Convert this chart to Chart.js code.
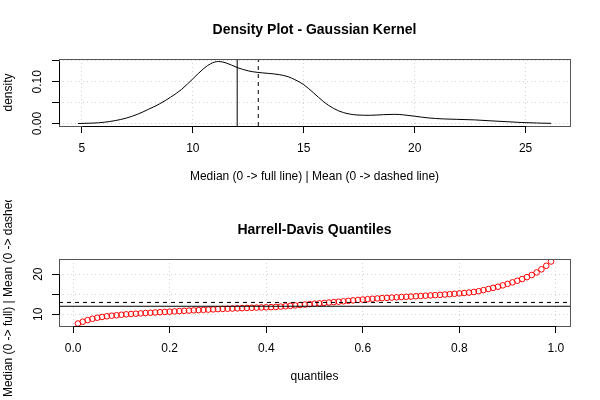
<!DOCTYPE html>
<html>
<head>
<meta charset="utf-8">
<script src="https://cdn.jsdelivr.net/npm/chart.js@4"></script>
<style>
  html, body { margin: 0; padding: 0; background: #fff; }
  canvas { display: block; }
</style>
</head>
<body>
<canvas id="densityChart" width="600" height="200"></canvas>
<canvas id="quantileChart" width="600" height="200"></canvas>
<script>
// kernel density
const densityX = [4.82, 5.5, 6.0, 6.5, 7.0, 7.5, 8.0, 8.5, 9.0, 9.5, 10.0, 10.5, 10.8, 11.15,
  11.5, 12.0, 12.5, 12.9, 13.4, 13.9, 14.3, 14.6, 15.0, 15.45, 15.9, 16.35, 16.8, 17.4,
  18.0, 18.6, 19.1, 19.5, 20.0, 20.6, 21.3, 21.9, 22.7, 23.4, 24.2, 24.8, 25.5, 26.15];
const densityY = [0.000, 0.001, 0.003, 0.007, 0.013, 0.022, 0.034, 0.047, 0.063, 0.082, 0.107, 0.132, 0.143, 0.1485,
  0.145, 0.134, 0.126, 0.1225, 0.120, 0.117, 0.112, 0.105, 0.093, 0.073, 0.052, 0.036, 0.026, 0.0205,
  0.0197, 0.0212, 0.022, 0.0207, 0.0175, 0.0135, 0.011, 0.010, 0.0087, 0.0065, 0.0042, 0.0025, 0.0012, 0.0004];

const medianValue = 12.0;
const meanValue = 12.95;

// Harrell-Davis quantiles
const quantileProbs = [0.01, 0.02, 0.03, 0.04, 0.05, 0.06, 0.07, 0.08, 0.09, 0.10,
  0.11, 0.12, 0.13, 0.14, 0.15, 0.16, 0.17, 0.18, 0.19, 0.20,
  0.21, 0.22, 0.23, 0.24, 0.25, 0.26, 0.27, 0.28, 0.29, 0.30,
  0.31, 0.32, 0.33, 0.34, 0.35, 0.36, 0.37, 0.38, 0.39, 0.40,
  0.41, 0.42, 0.43, 0.44, 0.45, 0.46, 0.47, 0.48, 0.49, 0.50,
  0.51, 0.52, 0.53, 0.54, 0.55, 0.56, 0.57, 0.58, 0.59, 0.60,
  0.61, 0.62, 0.63, 0.64, 0.65, 0.66, 0.67, 0.68, 0.69, 0.70,
  0.71, 0.72, 0.73, 0.74, 0.75, 0.76, 0.77, 0.78, 0.79, 0.80,
  0.81, 0.82, 0.83, 0.84, 0.85, 0.86, 0.87, 0.88, 0.89, 0.90,
  0.91, 0.92, 0.93, 0.94, 0.95, 0.96, 0.97, 0.98, 0.99];
const quantileValues = [7.70, 8.15, 8.55, 8.88, 9.14, 9.33, 9.50, 9.65, 9.76, 9.88,
  9.99, 10.07, 10.15, 10.23, 10.31, 10.38, 10.45, 10.52, 10.59, 10.65,
  10.72, 10.79, 10.86, 10.92, 10.98, 11.04, 11.10, 11.16, 11.22, 11.28,
  11.33, 11.38, 11.43, 11.48, 11.53, 11.58, 11.62, 11.66, 11.70, 11.74,
  11.78, 11.84, 11.91, 12.00, 12.09, 12.20, 12.31, 12.42, 12.53, 12.63,
  12.73, 12.83, 12.93, 13.03, 13.13, 13.24, 13.35, 13.46, 13.57, 13.67,
  13.77, 13.86, 13.94, 14.02, 14.09, 14.16, 14.23, 14.30, 14.36, 14.42,
  14.49, 14.56, 14.63, 14.70, 14.77, 14.84, 14.92, 15.00, 15.10, 15.20,
  15.30, 15.41, 15.55, 15.75, 16.02, 16.30, 16.58, 16.86, 17.20, 17.58,
  17.95, 18.35, 18.77, 19.25, 19.78, 20.42, 21.20, 22.08, 23.15];

// tick positions and their labels ('' = tick mark only)
const densityXTicks = [5, 10, 15, 20, 25];
const densityXLabels = ['5', '10', '15', '20', '25'];
const densityYTicks = [0, 0.05, 0.10, 0.15];
const densityYLabels = ['0.00', '', '0.10', ''];
const quantileXTicks = [0, 0.2, 0.4, 0.6, 0.8, 1.0];
const quantileXLabels = ['0.0', '0.2', '0.4', '0.6', '0.8', '1.0'];
const quantileYTicks = [10, 15, 20];
const quantileYLabels = ['10', '', '20'];

const FONT = '"Liberation Sans", Arial, Helvetica, sans-serif';

// R pads the data range by 4% on each side
function padRange(values) {
  const lo = Math.min(...values), hi = Math.max(...values);
  const d = (hi - lo) * 0.04;
  return [lo - d, hi + d];
}

// gray box plus black axis lines, and the rotated y label
const frame = {
  id: 'frame',
  afterDraw(chart, args, opts) {
    const ctx = chart.ctx, a = chart.chartArea;
    const xs = chart.scales.x, ys = chart.scales.y;
    ctx.save();
    ctx.lineWidth = 1;
    ctx.strokeStyle = '#555';
    ctx.strokeRect(a.left + 0.5, a.top + 0.5, a.right - a.left, a.bottom - a.top);
    ctx.strokeStyle = '#000';
    ctx.beginPath();
    const xt = xs.ticks, yt = ys.ticks;
    const by = Math.round(a.bottom) + 0.5;
    ctx.moveTo(Math.round(xs.getPixelForValue(xt[0].value)) + 0.5, by);
    ctx.lineTo(Math.round(xs.getPixelForValue(xt[xt.length - 1].value)) + 0.5, by);
    const lx = Math.round(a.left) + 0.5;
    ctx.moveTo(lx, Math.round(ys.getPixelForValue(yt[0].value)) + 0.5);
    ctx.lineTo(lx, Math.round(ys.getPixelForValue(yt[yt.length - 1].value)) + 0.5);
    ctx.stroke();

    ctx.fillStyle = '#000';
    ctx.font = '12px ' + FONT;
    ctx.textAlign = 'center';
    ctx.textBaseline = 'middle';
    ctx.translate(9, (a.top + a.bottom) / 2 + (opts.shift || 0));
    ctx.rotate(-Math.PI / 2);
    ctx.fillText(opts.text, 0, 0);
    ctx.restore();
  }
};

function makeScales(xRange, yRange, xTicks, xLabels, yTicks, yLabels, xTitle, yPad) {
  const grid = {
    color: '#d3d3d3',
    lineWidth: 1,
    tickLength: 7,
    tickColor: '#000',
    tickWidth: 1,
    tickBorderDash: [],
    borderDash: [1, 3]
  };
  return {
    x: {
      type: 'linear',
      min: xRange[0],
      max: xRange[1],
      afterBuildTicks: s => { s.ticks = xTicks.map(v => ({ value: v })); },
      afterFit: s => { s.height = 74; },
      grid: grid,
      border: { display: false, dash: [1, 3] },
      ticks: {
        autoSkip: false, maxRotation: 0, padding: 8, color: '#000',
        font: { family: FONT, size: 12 },
        callback: (v, i) => xLabels[i]
      },
      title: {
        display: true, text: xTitle, color: '#000',
        font: { family: FONT, size: 12 },
        padding: { top: 4, bottom: 16 }
      }
    },
    y: {
      type: 'linear',
      min: yRange[0],
      max: yRange[1],
      afterBuildTicks: s => { s.ticks = yTicks.map(v => ({ value: v })); },
      afterFit: s => { s.width = 59; },
      grid: grid,
      border: { display: false, dash: [1, 3] },
      ticks: {
        autoSkip: false, minRotation: 90, maxRotation: 90, crossAlign: 'center',
        padding: yPad, color: '#000',
        font: { family: FONT, size: 12 },
        callback: (v, i) => yLabels[i]
      }
    }
  };
}

function baseOptions(title, scales, sideTitle, sideShift) {
  return {
    responsive: false,
    animation: false,
    devicePixelRatio: 1,
    layout: { padding: { left: 0, right: 30, top: 0, bottom: 0 } },
    scales: scales,
    plugins: {
      legend: { display: false },
      tooltip: { enabled: false },
      title: {
        display: true, text: title, fullSize: false, color: '#000',
        font: { family: FONT, size: 14, weight: 'bold' },
        padding: { top: 21.6, bottom: 20.6 }
      },
      frame: { text: sideTitle, shift: sideShift }
    }
  };
}

// upper panel: density
const dxRange = padRange(densityX);
const dyRange = padRange(densityY);
new Chart(document.getElementById('densityChart'), {
  type: 'scatter',
  data: {
    datasets: [
      {
        data: [{ x: medianValue, y: dyRange[0] }, { x: medianValue, y: dyRange[1] }],
        showLine: true, borderColor: '#000', borderWidth: 1, pointRadius: 0
      },
      {
        data: [{ x: meanValue, y: dyRange[0] }, { x: meanValue, y: dyRange[1] }],
        showLine: true, borderColor: '#000', borderWidth: 1, borderDash: [4, 4], pointRadius: 0
      },
      {
        data: densityX.map((x, i) => ({ x: x, y: densityY[i] })),
        showLine: true, borderColor: '#000', borderWidth: 1, pointRadius: 0,
        cubicInterpolationMode: 'monotone'
      }
    ]
  },
  options: baseOptions('Density Plot - Gaussian Kernel',
    makeScales(dxRange, dyRange, densityXTicks, densityXLabels, densityYTicks, densityYLabels,
      'Median (0 -> full line) | Mean (0 -> dashed line)', 3),
    'density', 0),
  plugins: [frame]
});

// lower panel: Harrell-Davis quantiles
const qxRange = padRange(quantileProbs);
const qyRange = padRange(quantileValues);
new Chart(document.getElementById('quantileChart'), {
  type: 'scatter',
  data: {
    datasets: [
      {
        data: [{ x: qxRange[0], y: medianValue }, { x: qxRange[1], y: medianValue }],
        showLine: true, borderColor: '#000', borderWidth: 1, pointRadius: 0
      },
      {
        data: [{ x: qxRange[0], y: meanValue }, { x: qxRange[1], y: meanValue }],
        showLine: true, borderColor: '#000', borderWidth: 1, borderDash: [4, 4], pointRadius: 0
      },
      {
        data: quantileProbs.map((p, i) => ({ x: p, y: quantileValues[i] })),
        showLine: false, pointStyle: 'circle', pointRadius: 2.8,
        borderColor: '#ff0000', borderWidth: 1, backgroundColor: 'rgba(0,0,0,0)'
      }
    ]
  },
  options: baseOptions('Harrell-Davis Quantiles',
    makeScales(qxRange, qyRange, quantileXTicks, quantileXLabels, quantileYTicks, quantileYLabels,
      'quantiles', 7),
    'Median (0 -> full) | Mean (0 -> dashed line)', -9),
  plugins: [frame]
});
</script>
</body>
</html>
